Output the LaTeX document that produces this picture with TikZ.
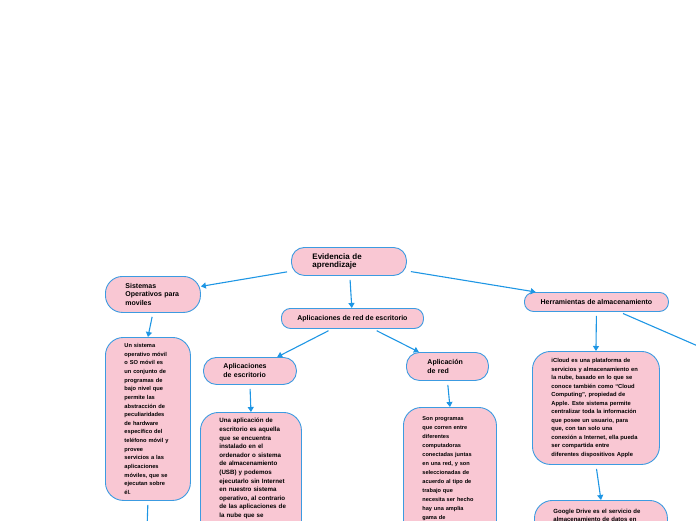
\documentclass[tikz,border=0pt]{standalone}
\usepackage{fontspec}
\setmainfont{Liberation Sans}
\usetikzlibrary{arrows.meta}
\definecolor{boxpink}{RGB}{249,199,211}
\definecolor{boxblue}{RGB}{60,155,225}
\definecolor{linkblue}{RGB}{30,150,228}
\begin{document}
\begin{tikzpicture}[x=1pt,y=-1pt,
   box/.style={draw=boxblue,fill=boxpink,line width=0.9pt,anchor=north west,
     align=left,inner ysep=0pt,inner xsep=8pt,rounded corners=13pt},
   lead/.style={execute at begin node={\leftskip=#1}},
   desc/.style={box,rounded corners=18pt,lead=11pt},
   cut/.style={desc,text height=5pt,text depth=150pt},
   link/.style={draw=linkblue,line width=1.1pt,shorten <=4pt,
     -{Triangle[length=5pt,width=6pt]}}]
   \useasboundingbox (0,0) rectangle (696,520);
   \clip (0,0) rectangle (696,520);
   % top row
   \node[box,font=\fontsize{8}{8.5}\selectfont\bfseries,text width=99pt,lead=13pt,
     minimum height=28pt] (evid) at (291,247) {Evidencia de\\aprendizaje};
   \node[box,font=\fontsize{7}{8.5}\selectfont\bfseries,text width=79pt,lead=12pt,
     minimum height=36pt,rounded corners=17pt] (sist) at (105,276)
     {Sistemas\\Operativos para\\moviles};
   \node[box,font=\fontsize{7}{8.5}\selectfont\bfseries,align=center,minimum width=142pt,
     minimum height=20pt,rounded corners=9pt] (redesc) at (281,308)
     {Aplicaciones de red de escritorio};
   \node[box,font=\fontsize{7}{8.5}\selectfont\bfseries,align=center,minimum width=144pt,
     minimum height=19pt,rounded corners=9pt] (herr) at (524,292)
     {Herramientas de almacenamiento};
   % second row
   \node[box,font=\fontsize{7}{9}\selectfont\bfseries,text width=77pt,lead=12pt,
     minimum height=27pt] (apesc) at (203,357) {Aplicaciones\\de escritorio};
   \node[box,font=\fontsize{7}{9}\selectfont\bfseries,text width=66pt,lead=13pt,
     minimum height=28pt] (apred) at (406,352) {Aplicación\\de red};
   % descriptions
   \node[desc,font=\fontsize{5.7}{8.65}\selectfont\bfseries,text width=69pt,
     minimum height=163pt] (sistdesc) at (105,337)
     {Un sistema\\operativo móvil\\o SO móvil es\\un conjunto de\\programas de\\
      bajo nivel que\\permite las\\abstracción de\\peculiaridades\\de hardware\\
      específico del\\teléfono móvil y\\provee\\servicios a las\\aplicaciones\\
      móviles, que se\\ejecutan sobre\\él.};
   \node[cut,font=\fontsize{6.2}{8.6}\selectfont\bfseries,text width=85pt,
     inner ysep=5.5pt] (apescdesc) at (200,412)
     {Una aplicación de\\escritorio es aquella\\que se encuentra\\instalado en el\\
      ordenador o sistema\\de almacenamiento\\(USB) y podemos\\ejecutarlo sin Internet\\
      en nuestro sistema\\operativo, al contrario\\de las aplicaciones de\\la nube que se};
   \node[cut,font=\fontsize{5.6}{9}\selectfont\bfseries,text width=77pt,
     inner ysep=8pt] (apreddesc) at (403,407)
     {Son programas\\que corren entre\\diferentes\\computadoras\\conectadas juntas\\
      en una red, y son\\seleccionadas de\\acuerdo al tipo de\\trabajo que\\
      necesita ser hecho\\hay una amplia\\gama de\\programas de la};
   \node[desc,font=\fontsize{5.8}{8.5}\selectfont\bfseries,text width=111pt,
     minimum height=113pt] (icloud) at (532,351)
     {iCloud es una plataforma de\\servicios y almacenamiento en\\la nube, basado en lo que se\\
      conoce también como “Cloud\\Computing”, propiedad de\\Apple. Este sistema permite\\
      centralizar toda la información\\que posee un usuario, para\\que, con tan solo una\\
      conexión a Internet, ella pueda\\ser compartida entre\\diferentes dispositivos Apple};
   \node[cut,font=\fontsize{6}{8}\selectfont\bfseries,text width=117pt,
     inner ysep=8pt] (gdrive) at (534,500)
     {Google Drive es el servicio de\\almacenamiento de datos en};
   % loose ends
   \coordinate (offr) at (740,364.3);
   \coordinate (offb) at (146,560);
   % connectors
   \draw[link] (evid) -- (sist);
   \draw[link] (evid) -- (redesc);
   \draw[link] (evid) -- (herr);
   \draw[link] (sist.south) -- (sistdesc.north);
   \draw[link] (redesc) -- (apesc);
   \draw[link] (redesc) -- (apred);
   \draw[link] (apesc.south) -- (apescdesc.north);
   \draw[link] (apred.south) -- (apreddesc.north);
   \draw[link] (herr.south) -- (icloud.north);
   \draw[link] (herr) -- (offr);
   \draw[link] (icloud.south) -- (gdrive.north);
   \draw[link] (sistdesc.south) -- (offb);
\end{tikzpicture}
\end{document}
